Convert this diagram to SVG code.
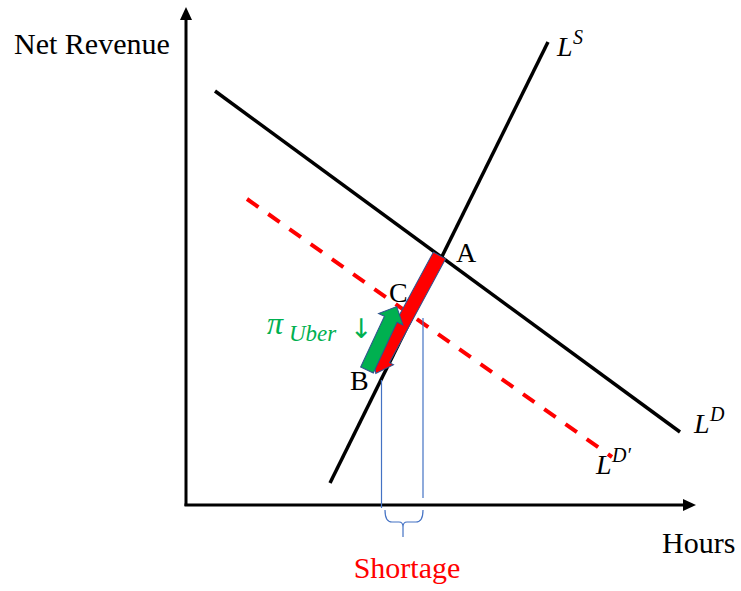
<svg xmlns="http://www.w3.org/2000/svg" width="741" height="591" viewBox="0 0 741 591">
<style>
.ax{stroke:#000;stroke-width:3;fill:none}
.ln{stroke:#000;stroke-width:3.5;fill:none}
.dash{stroke:#ff0000;stroke-width:4;fill:none;stroke-dasharray:14 12}
.thin{stroke:#4472c4;stroke-width:1.2;fill:none}
.t{font-family:"Liberation Serif","Times New Roman",serif;fill:#000}
.m{font-family:"Liberation Serif","Times New Roman",serif;font-style:italic;fill:#000}
.g{fill:#00b050}
</style>
<rect width="741" height="591" fill="#fff"/>
<g id="axes">
<line class="ax" x1="186" y1="506" x2="186" y2="16"/>
<polygon points="186,7 180,20 192,20" fill="#000"/>
<line class="ax" x1="184.5" y1="505" x2="686" y2="505"/>
<polygon points="696,505 683,499 683,511" fill="#000"/>
</g>
<g id="connectors">
<line class="ln" x1="215" y1="91" x2="680" y2="432"/>
<line class="ln" x1="330" y1="483" x2="548" y2="42"/>
<line class="dash" x1="247" y1="199" x2="612" y2="457"/>
<line class="thin" x1="381.5" y1="380" x2="381.5" y2="508"/>
<line class="thin" x1="423" y1="318" x2="423" y2="498"/>
<path class="thin" d="M385,510 Q385,522 392,522 L399,522 Q403,522 403,527 L403,537 M403,527 Q403,522 407,522 L416,522 Q423,522 423,510" stroke-width="1.6"/>
</g>
<g id="arrow-red">
<polygon transform="translate(439.5,255.5) rotate(118.4)" points="0,-7 118,-7 118,-11.5 134,0 118,11.5 118,7 0,7" fill="#ff0000" stroke="#2f528f" stroke-width="1"/>
</g>
<g id="arrow-green">
<polygon transform="translate(367,370) rotate(-64.9)" points="0,-7 56,-7 56,-13.5 70,0 56,13.5 56,7 0,7" fill="#00b050" stroke="#2f528f" stroke-width="1"/>
</g>
<g id="labels">
<text class="t" x="14" y="54" font-size="30">Net Revenue</text>
<text class="t" x="662" y="553" font-size="30">Hours</text>
<text class="t" x="407" y="578" font-size="30" style="fill:#ff0000" text-anchor="middle">Shortage</text>
<text class="t" x="456" y="262" font-size="28">A</text>
<text class="t" x="389" y="302" font-size="28">C</text>
<text class="t" x="350" y="390" font-size="28">B</text>
<text class="m" x="557" y="56" font-size="28">L</text>
<text class="m" x="573" y="44" font-size="20">S</text>
<text class="m" x="694" y="433" font-size="28">L</text>
<text class="m" x="710" y="421" font-size="20">D</text>
<text class="m" x="596" y="474" font-size="28">L</text>
<text class="m" x="612" y="462" font-size="20">D′</text>
<text class="m g" x="267" y="334" font-size="32">π</text>
<text class="m g" x="289" y="341" font-size="23">Uber</text>
<text class="g" font-family="DejaVu Sans,sans-serif" x="350" y="338" font-size="27">↓</text>
</g>
</svg>
